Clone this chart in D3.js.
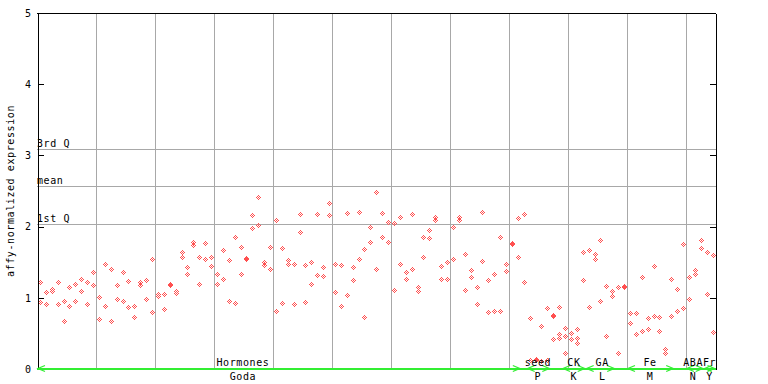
<!DOCTYPE html>
<html><head><meta charset="utf-8">
<script src="https://cdn.jsdelivr.net/npm/d3@7"></script>
<style>
body{margin:0;background:#fff}
svg{display:block}
text{font-family:"DejaVu Sans Mono",monospace;font-size:10px;letter-spacing:0.6px;fill:#000}
</style>
</head><body>
<svg id="c" width="768" height="384"></svg>
<script>
// ---- data ----
const rep1 = [1.22,1.08,1.13,1.22,0.96,1.15,1.19,1.26,1.22,1.36,
  1.01,1.47,1.41,1.18,1.36,1.23,0.89,1.22,1.25,1.54,
  1.05,1.06,1.20,1.09,1.65,1.43,1.78,1.57,1.77,1.58,
  1.34,1.67,1.53,1.86,1.72,1.56,2.16,2.41,1.50,1.71,
  2.09,1.70,1.53,1.47,2.17,1.46,1.50,2.17,1.43,2.33,
  1.47,1.46,2.19,1.43,2.21,1.68,2.00,2.48,2.19,2.06,
  2.05,2.13,1.36,2.17,1.15,1.85,1.95,2.14,1.44,1.50,
  2.00,2.14,1.62,1.39,1.15,2.21,1.25,1.34,1.85,1.47,
  1.77,2.12,2.17,0.71,0.14,0.61,0.85,0.76,0.87,0.57,
  0.50,0.56,1.64,1.67,1.61,1.81,1.16,1.09,1.15,1.17,
  0.78,0.78,1.29,0.71,1.44,0.73,0.28,1.26,1.12,1.75,
  1.29,1.39,1.81,1.64,1.60];
const rep2 = [0.94,0.91,1.10,0.91,0.67,0.88,0.95,1.09,0.91,1.18,
  0.70,0.89,0.68,0.98,0.95,0.87,0.73,1.18,0.98,0.80,
  1.03,0.84,1.18,1.07,1.58,1.33,1.74,1.19,1.54,1.44,
  1.20,1.26,0.96,0.92,1.33,1.54,1.98,2.02,1.46,1.40,
  0.81,0.92,1.47,0.91,1.92,0.94,1.19,1.32,1.30,2.16,
  1.08,0.89,1.04,1.25,1.54,0.73,1.78,1.40,1.85,1.78,
  1.11,1.48,1.26,1.41,1.09,1.58,1.84,2.09,1.26,1.27,
  1.55,2.09,1.11,1.29,0.91,1.51,0.80,0.82,0.81,1.37,
  1.75,1.58,1.22,0.13,0.12,0.11,0.12,0.74,0.49,0.47,
  0.42,0.43,1.25,0.87,1.54,0.95,0.47,1.02,0.22,1.15,
  0.64,0.49,0.54,0.56,0.75,0.54,0.22,0.75,0.81,0.85,
  0.98,1.34,1.70,1.06,0.52];
const rep3 = [null,null,null,null,null,null,null,null,null,null,
  null,null,null,null,null,null,null,null,null,null,
  null,null,null,null,null,null,null,null,null,null,
  null,null,null,null,null,null,null,null,null,null,
  null,null,null,null,null,null,null,null,null,null,
  null,null,null,null,null,null,null,null,null,null,
  null,null,null,null,null,null,null,null,null,null,
  null,null,null,null,null,null,null,null,null,null,
  null,null,null,null,null,null,null,0.42,0.43,0.22,
  null,0.36,null,null,null,null,null,null,null,null,
  null,null,null,null,null,null,null,null,null,null,
  null,null,null,null,null];
const yTicks = [0,1,2,3,4,5];
const refLabels = ["3rd Q","mean","1st Q"];
const refValues = [3.09,2.57,2.03];
const groupTop    = ["Hormones","seed","CK","GA","Fe","ABA","Fr"];
const groupBottom = ["Goda","P","K","L","M","N","Y"];
const groupStart  = [0,83,89,93,100,110,113];
const groupEnd    = [81,86,92,97,107,112,114];
const groupLabelAt= [34.9,84.9,91.0,95.8,103.9,111.2,114.0];
const yTitle = "affy-normalized expression";

(function () {
// ---- layout ----
const mLeft = 37, mRight = 715.5, mTop = 13, mBottom = 369;
const n = rep1.length;
const svg = d3.select("#c");
const x = d3.scaleLinear().domain([0, n]).range([mLeft, mRight]);
const y = d3.scaleLinear().domain([0, 5]).range([mBottom, mTop]);
const px = v => Math.round(v) + 0.5;

// grid vertical lines every 10 samples
const vg = d3.range(10, n, 10);
svg.append("g").selectAll("line").data(vg).join("line")
  .attr("x1", d => px(x(d))).attr("x2", d => px(x(d)))
  .attr("y1", mTop).attr("y2", mBottom)
  .attr("stroke", "#a8a8a8").attr("stroke-width", 1).attr("shape-rendering", "crispEdges");

// reference lines
svg.append("g").selectAll("line").data(refValues).join("line")
  .attr("x1", mLeft).attr("x2", mRight)
  .attr("y1", d => px(y(d))).attr("y2", d => px(y(d)))
  .attr("stroke", "#a8a8a8").attr("stroke-width", 1).attr("shape-rendering", "crispEdges");
svg.append("g").selectAll("text").data(refLabels).join("text")
  .attr("x", mLeft).attr("y", (d, i) => Math.round(y(refValues[i])) - 2)
  .text(d => d);

// points
const offs = [[0,0],[0,-2],[0,2],[-2,0],[2,0],[-1,-1],[1,-1],[-1,1],[1,1]];
const pts = [];
[rep1, rep2, rep3].forEach(r => r.forEach((v, i) => { if (v != null) pts.push({i, v}); }));
svg.append("g").selectAll("path").data(pts).join("path")
  .attr("d", d => {
    const cx = Math.round(x(d.i + 0.5)), cy = Math.round(y(d.v));
    return offs.map(o => `M${cx + o[0]},${cy + o[1]}h1v1h-1z`).join("");
  })
  .attr("fill", "#ff5050").attr("shape-rendering", "crispEdges");

// axes
const ax = svg.append("g").attr("transform", `translate(${mLeft + 0.5},0)`)
  .call(d3.axisLeft(y).tickValues(yTicks).tickSize(-6).tickSizeOuter(0).tickPadding(6).tickFormat(d3.format("d")));
ax.selectAll("text").style("font-family", "DejaVu Sans Mono").style("font-size", "10px").attr("fill", "#000");
svg.append("g").attr("transform", `translate(${Math.round(mRight) - 0.5},0)`)
  .call(d3.axisRight(y).tickValues(yTicks).tickSize(-6).tickSizeOuter(0).tickFormat(""));
svg.selectAll(".domain, .tick line").attr("stroke", "#000").attr("shape-rendering", "crispEdges");
svg.append("line").attr("x1", mLeft).attr("x2", Math.round(mRight))
  .attr("y1", mTop + 0.5).attr("y2", mTop + 0.5).attr("stroke", "#000").attr("shape-rendering", "crispEdges");
svg.append("line").attr("x1", mLeft).attr("x2", Math.round(mRight))
  .attr("y1", mBottom + 0.5).attr("y2", mBottom + 0.5).attr("stroke", "#000").attr("shape-rendering", "crispEdges");

// green group line and arrows
const gy = mBottom - 0.5;
svg.append("line").attr("x1", x(0)).attr("x2", x(n)).attr("y1", gy).attr("y2", gy)
  .attr("stroke", "#33ee33").attr("stroke-width", 2).attr("shape-rendering", "crispEdges");
const gi = d3.range(groupTop.length);
svg.append("g").selectAll("path").data(gi).join("path")
  .attr("d", g => {
    const a = x(groupStart[g]) + 1, b = x(groupEnd[g] + 1) - 1;
    return `M${a + 7},${gy - 3}L${a},${gy}L${a + 7},${gy + 3}M${b - 7},${gy - 3}L${b},${gy}L${b - 7},${gy + 3}`;
  })
  .attr("fill", "none").attr("stroke", "#33ee33").attr("stroke-width", 1.3);
svg.append("g").selectAll("text").data(gi).join("text")
  .attr("x", g => x(groupLabelAt[g])).attr("y", 366).attr("text-anchor", "middle")
  .text(g => groupTop[g]);
svg.append("g").selectAll("text").data(gi).join("text")
  .attr("x", g => x(groupLabelAt[g])).attr("y", 380).attr("text-anchor", "middle")
  .text(g => groupBottom[g]);

// y title
svg.append("text").attr("transform", `translate(14,${(mTop + mBottom) / 2}) rotate(-90)`)
  .attr("text-anchor", "middle").text(yTitle);
})();
</script>
</body></html>
